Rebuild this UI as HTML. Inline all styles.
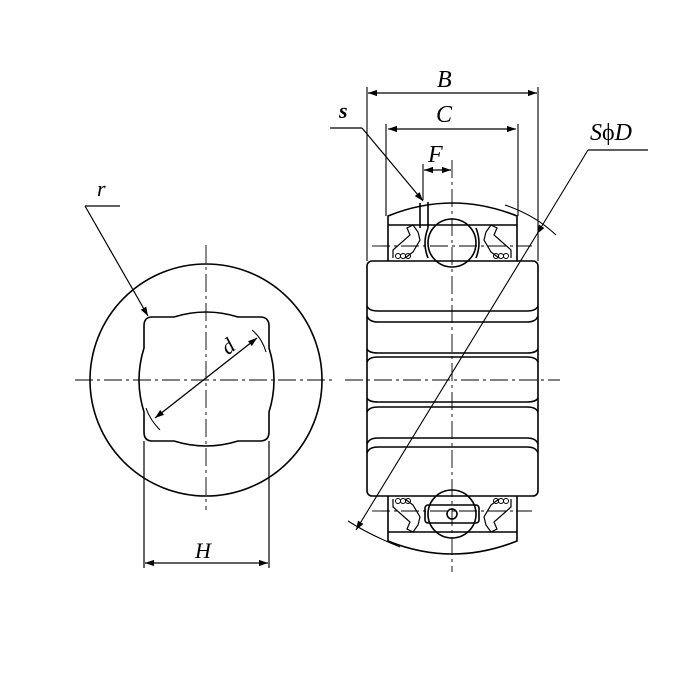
<!DOCTYPE html>
<html><head><style>body{margin:0;background:#fff}svg{display:block}</style></head><body>
<svg width="700" height="700" viewBox="0 0 700 700" xmlns="http://www.w3.org/2000/svg" fill="none" stroke="#000" stroke-width="1.6">
<defs><marker id="a" viewBox="0 0 10 10" refX="10" refY="5" markerWidth="10" markerHeight="9" orient="auto-start-reverse" markerUnits="userSpaceOnUse"><path d="M0,1.5 L10,5 L0,8.5z" fill="#000" stroke="none"/></marker></defs>
<!-- left view -->
<circle cx="206" cy="380" r="116"/>
<path d="M152,317 L174,317 Q206,307 238,317 L260,317 Q269,317 269,326 L269,348 Q279,380 269,412 L269,432 Q269,441 260,441 L238,441 Q206,451 174,441 L152,441 Q144,441 144,432 L144,412 Q134,380 144,348 L144,326 Q144,317 152,317Z"/>
<g stroke-width="0.9" stroke-dasharray="18,4,3,4"><line x1="206" y1="245" x2="206" y2="510"/><line x1="75" y1="380" x2="335" y2="380"/></g>
<line x1="155" y1="418" x2="257" y2="338" marker-start="url(#a)" marker-end="url(#a)" stroke-width="1.3"/>
<path d="M252,330 Q262,338 266,352" stroke-width="1.1"/><path d="M146,408 Q150,420 160,430" stroke-width="1.1"/>
<text x="222" y="352" font-family="Liberation Serif" font-style="italic" font-size="22" fill="#000" stroke="none" transform="rotate(-38 230 345)">d</text>
<line x1="144" y1="441" x2="144" y2="568" stroke-width="1.2"/><line x1="269" y1="441" x2="269" y2="568" stroke-width="1.2"/>
<line x1="145" y1="563" x2="268" y2="563" marker-start="url(#a)" marker-end="url(#a)" stroke-width="1.3"/>
<text x="195" y="558" font-family="Liberation Serif" font-style="italic" font-size="22" fill="#000" stroke="none">H</text>
<text x="97" y="196" font-family="Liberation Serif" font-style="italic" font-size="22" fill="#000" stroke="none">r</text>
<polyline points="85,206 120,206" stroke-width="1.2"/><line x1="85" y1="206" x2="148" y2="316" marker-end="url(#a)" stroke-width="1.2"/>
<!-- right view outer ring -->
<path d="M388,261 L388,216 Q452,190 517,216 L517,261"/>
<line x1="388" y1="225" x2="517" y2="225"/>
<path d="M388,496 L388,541 Q452,567 517,541 L517,496"/>
<line x1="388" y1="532" x2="517" y2="532"/>
<circle cx="452" cy="243" r="24"/><circle cx="452" cy="514" r="24"/>
<rect x="425" y="505" width="54" height="18" rx="3"/>
<circle cx="452" cy="514" r="5"/>
<path d="M428,228 q-6,15 0,30 M476,228 q6,15 0,30" />
<line x1="420" y1="203" x2="420" y2="228"/><line x1="428" y1="202" x2="428" y2="228"/>
<!-- seals -->
<path d="M393,258 L393,250 L410,235 L407,228 L413,225 L418,232 L420,240 L413,252 L405,258" stroke-width="1.2"/>
<path d="M511,258 L511,250 L494,235 L497,228 L491,225 L486,232 L484,240 L491,252 L499,258" stroke-width="1.2"/>
<path d="M393,499 L393,507 L410,522 L407,529 L413,532 L418,525 L420,517 L413,505 L405,499" stroke-width="1.2"/>
<path d="M511,499 L511,507 L494,522 L497,529 L491,532 L486,525 L484,517 L491,505 L499,499" stroke-width="1.2"/>
<g stroke-width="1"><circle cx="398" cy="256" r="2.5"/><circle cx="403" cy="256" r="2.5"/><circle cx="408" cy="256" r="2.5"/><circle cx="496" cy="256" r="2.5"/><circle cx="501" cy="256" r="2.5"/><circle cx="506" cy="256" r="2.5"/>
<circle cx="398" cy="501" r="2.5"/><circle cx="403" cy="501" r="2.5"/><circle cx="408" cy="501" r="2.5"/><circle cx="496" cy="501" r="2.5"/><circle cx="501" cy="501" r="2.5"/><circle cx="506" cy="501" r="2.5"/></g>
<!-- inner ring -->
<rect x="367" y="261" width="171" height="235" rx="5"/>
<path d="M367,306 Q369,311 378,311 L527,311 Q536,311 538,306"/>
<path d="M367,316 Q369,322 378,322 L527,322 Q536,322 538,316"/>
<path d="M367,349 Q369,353 378,353 L527,353 Q536,353 538,349"/>
<path d="M367,362 Q369,357 378,357 L527,357 Q536,357 538,362"/>
<path d="M367,398 Q369,402 378,402 L527,402 Q536,402 538,398"/>
<path d="M367,412 Q369,407 378,407 L527,407 Q536,407 538,412"/>
<path d="M367,444 Q369,438 378,438 L527,438 Q536,438 538,444"/>
<path d="M367,453 Q369,447 378,447 L527,447 Q536,447 538,453"/>
<g stroke-width="0.9" stroke-dasharray="18,4,3,4"><line x1="452" y1="160" x2="452" y2="572"/><line x1="345" y1="380" x2="560" y2="380"/><line x1="372" y1="246" x2="532" y2="246"/><line x1="372" y1="511" x2="532" y2="511"/></g>
<!-- sphere arc -->
<path d="M505,205 Q535,215 556,235" stroke-width="1.1"/><path d="M348,521 Q370,535 400,547" stroke-width="1.1"/>
<!-- dimensions -->
<line x1="367" y1="87" x2="367" y2="261" stroke-width="1.1"/><line x1="538" y1="87" x2="538" y2="261" stroke-width="1.1"/>
<line x1="368" y1="93" x2="537" y2="93" marker-start="url(#a)" marker-end="url(#a)" stroke-width="1.3"/>
<line x1="386" y1="124" x2="386" y2="216" stroke-width="1.1"/><line x1="518" y1="124" x2="518" y2="216" stroke-width="1.1"/>
<line x1="388" y1="129" x2="516" y2="129" marker-start="url(#a)" marker-end="url(#a)" stroke-width="1.3"/>
<line x1="423" y1="164" x2="423" y2="200" stroke-width="1.1"/>
<line x1="424" y1="170" x2="451" y2="170" marker-start="url(#a)" marker-end="url(#a)" stroke-width="1.3"/>
<text x="437" y="87" font-family="Liberation Serif" font-style="italic" font-size="24" fill="#000" stroke="none">B</text>
<text x="436" y="122" font-family="Liberation Serif" font-style="italic" font-size="24" fill="#000" stroke="none">C</text>
<text x="428" y="162" font-family="Liberation Serif" font-style="italic" font-size="24" fill="#000" stroke="none">F</text>
<text x="339" y="118" font-family="Liberation Serif" font-style="italic" font-weight="bold" font-size="22" fill="#000" stroke="none">s</text>
<polyline points="330,128 362,128" stroke-width="1.2"/><line x1="362" y1="128" x2="423" y2="201" marker-end="url(#a)" stroke-width="1.2"/>
<text x="590" y="140" font-family="Liberation Serif" font-style="italic" font-size="24" fill="#000" stroke="none">S<tspan font-style="normal">ϕ</tspan>D</text>
<polyline points="648,150 588,150" stroke-width="1.2"/><line x1="588" y1="150" x2="537" y2="234" marker-end="url(#a)" stroke-width="1.1"/>
<line x1="537" y1="234" x2="356" y2="530" stroke-width="1.1" marker-end="url(#a)"/>
</svg>
</body></html>
